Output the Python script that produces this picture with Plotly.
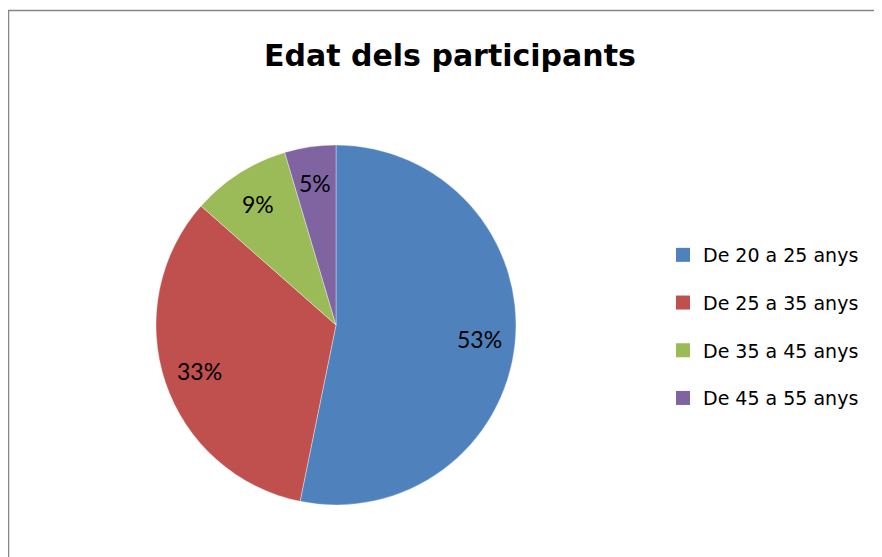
import math
import plotly.graph_objects as go

# ---- data ----
categories = ["De 20 a 25 anys", "De 25 a 35 anys", "De 35 a 45 anys", "De 45 a 55 anys"]
values = [53.2, 33.3, 8.9, 4.6]
colors = ["#4F81BD", "#C0504D", "#9BBB59", "#8064A2"]
title_text = "Edat dels participants"

# ---- layout constants ----
# the page body has an 8px default margin, so the figure starts at (8, 8)
OX, OY = 8, 8
W, H = 882 - OX, 557 - OY
CX, CY, R = 336 - OX, 325 - OY, 180  # pie centre/radius in figure pixels
LABEL_FONT = "Lato, Calibri, Arial, sans-serif"
TEXT_FONT = "DejaVu Sans, Arial, sans-serif"

def px(x):
    return x / W

def py(y):
    return 1 - y / H

fig = go.Figure()

dom_x = [px(CX - R), px(CX + R)]
dom_y = [py(CY + R), py(CY - R)]

fig.add_trace(go.Pie(
    labels=categories,
    values=values,
    marker=dict(colors=colors, line=dict(color="rgba(255,255,255,0.6)", width=0.6)),
    sort=False,
    direction="clockwise",
    rotation=0,
    textinfo="none",
    hoverinfo="label+percent",
    showlegend=False,
    domain=dict(x=dom_x, y=dom_y),
))

# data labels, positioned along each slice's mid-angle
total = sum(values)
cum = 0.0
annotations = []
for v in values:
    mid = (cum + v / 2) / total * 2 * math.pi
    cum += v
    rf = 0.8 * R
    dx = rf * math.sin(mid)
    dy = rf * math.cos(mid)
    annotations.append(dict(
        x=px(CX + dx), y=py(CY - dy),
        xref="paper", yref="paper", showarrow=False,
        text=f"{round(v / total * 100)}%",
        font=dict(family=LABEL_FONT, size=23, color="#000000"),
        xanchor="center", yanchor="middle",
    ))

annotations.append(dict(
    x=px(450 - OX), y=py(56 - OY), xref="paper", yref="paper", showarrow=False,
    text=f"<b>{title_text}</b>", font=dict(family=TEXT_FONT, size=30, color="#000000"),
    xanchor="center", yanchor="middle",
))

# legend entries
for cat, col in zip(categories, colors):
    fig.add_trace(go.Scatter(
        x=[None], y=[None], mode="markers", name=cat, legendgroup=cat,
        marker=dict(symbol="square", size=14, color=col),
        showlegend=True, hoverinfo="skip",
    ))

fig.update_layout(
    width=W, height=H,
    margin=dict(l=0, r=0, t=0, b=0),
    paper_bgcolor="white", plot_bgcolor="white",
    xaxis=dict(visible=False), yaxis=dict(visible=False),
    annotations=annotations,
    legend=dict(
        x=px(663 - OX), y=py(236 - OY), xanchor="left", yanchor="top",
        font=dict(family=TEXT_FONT, size=19, color="#000000"),
        tracegroupgap=20, itemwidth=30,
        bgcolor="rgba(0,0,0,0)",
    ),
    shapes=[dict(
        type="rect", xref="paper", yref="paper",
        x0=px(8.5 - OX), x1=1.05, y0=-0.05, y1=py(10.5 - OY),
        line=dict(color="#868686", width=1.5), fillcolor="rgba(0,0,0,0)", layer="below",
    )],
)

fig.write_html("out.html")
